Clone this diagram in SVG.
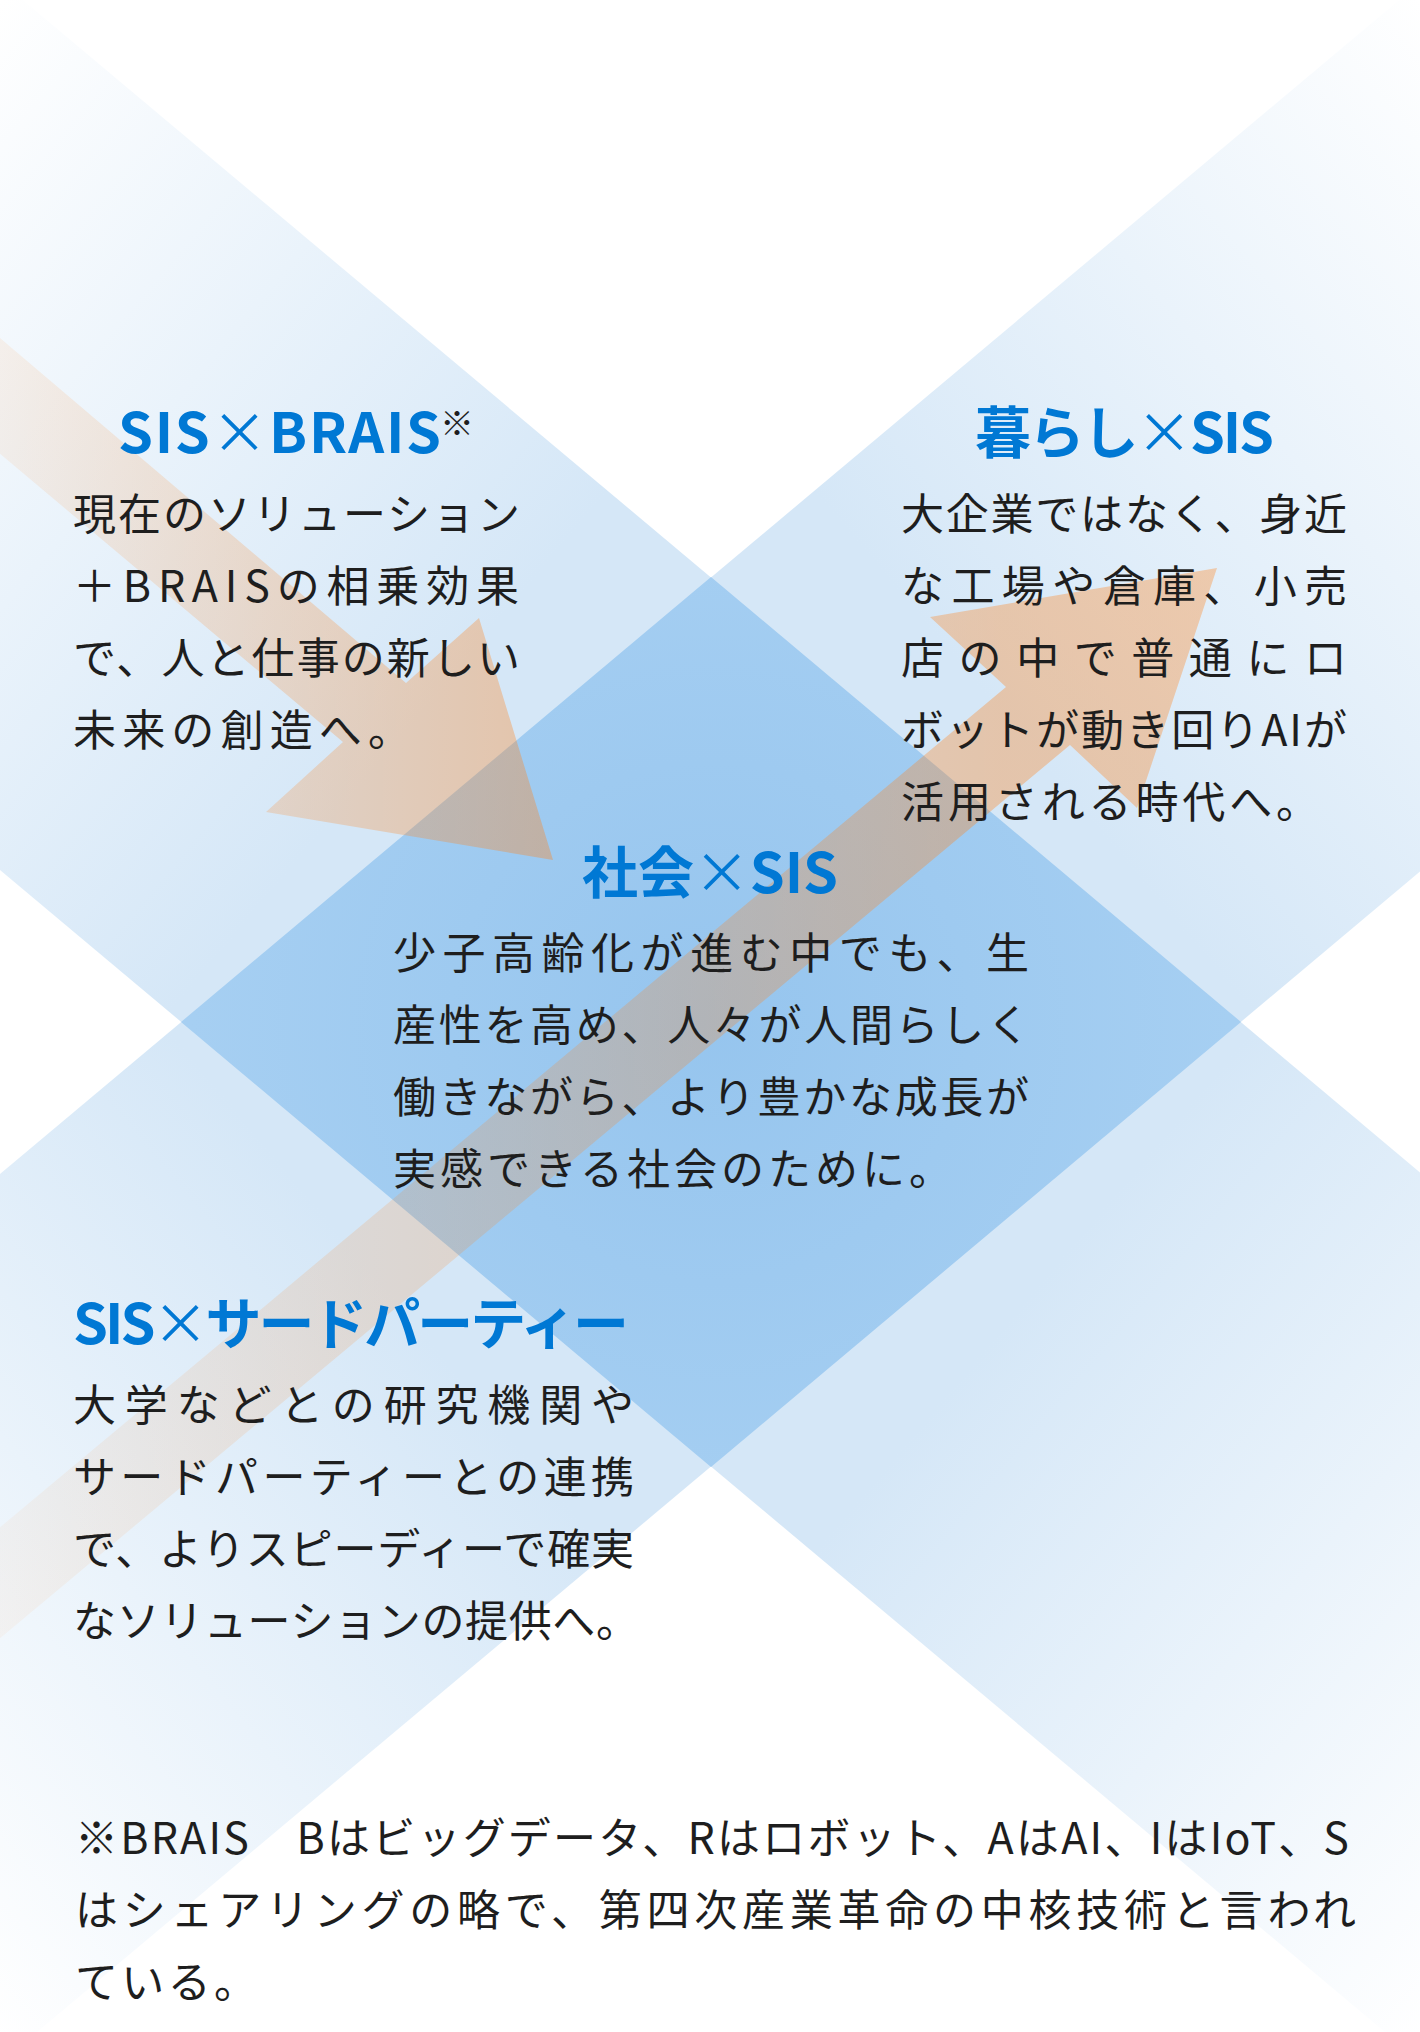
<svg xmlns="http://www.w3.org/2000/svg" width="1420" height="2032" viewBox="0 0 1420 2032">
  <defs>
    <style>
      .t { font-family: "Noto Sans CJK JP", "Noto Sans", sans-serif; }
      .h { font-size: 56px; font-weight: 700; fill: #0078d4; }
      .x { font-weight: 400; }
      .b { font-size: 43px; font-weight: 400; fill: #1e1e1e; }
      .note { font-size: 34px; font-weight: 400; fill: #1e1e1e; }
    </style>
    <linearGradient id="bandGrad" gradientUnits="userSpaceOnUse" x1="-1250" y1="0" x2="1250" y2="0">
      <stop offset="0.02" stop-color="#d5e7f7" stop-opacity="0"/>
      <stop offset="0.332" stop-color="#d5e7f7" stop-opacity="1"/>
      <stop offset="0.668" stop-color="#d5e7f7" stop-opacity="1"/>
      <stop offset="0.98" stop-color="#d5e7f7" stop-opacity="0"/>
    </linearGradient>
    <radialGradient id="diamondGrad" gradientUnits="userSpaceOnUse" cx="711" cy="1022" r="520">
      <stop offset="0" stop-color="#96c5ee"/>
      <stop offset="1" stop-color="#a6cff2"/>
    </radialGradient>
    <linearGradient id="arrow1Grad" gradientUnits="userSpaceOnUse" x1="0" y1="0" x2="553" y2="0">
      <stop offset="0" stop-color="#ff841f" stop-opacity="0.08"/>
      <stop offset="1" stop-color="#ff841f" stop-opacity="0.36"/>
    </linearGradient>
    <linearGradient id="arrow2Grad" gradientUnits="userSpaceOnUse" x1="0" y1="0" x2="1000" y2="0">
      <stop offset="0" stop-color="#ff841f" stop-opacity="0.05"/>
      <stop offset="1" stop-color="#ff841f" stop-opacity="0.35"/>
    </linearGradient>
  </defs>

  <rect x="0" y="0" width="1420" height="2032" fill="#ffffff"/>

  <g id="background">
    <rect transform="translate(711 1022) rotate(40)" x="-1400" y="-340.5" width="2800" height="681" fill="url(#bandGrad)"/>
    <rect transform="translate(711 1022) rotate(-40)" x="-1400" y="-340.5" width="2800" height="681" fill="url(#bandGrad)"/>
    <polygon id="center-diamond" points="711,577 1241,1022 711,1467 181,1022" fill="url(#diamondGrad)"/>
  </g>

  <g id="connectors">
    <polygon id="arrow-brais-to-society" points="-20,321 406,683 479,618 553,860 266,812 343,742 -20,437" fill="url(#arrow1Grad)"/>
    <polygon id="arrow-third-to-life" points="-20,1544 1006,687 930,617 1217,568 1137,808 1070,745 -20,1655" fill="url(#arrow2Grad)"/>
  </g>

  <g id="node-brais" class="t">
    <text class="h" x="118" y="453" textLength="323" lengthAdjust="spacing">SIS<tspan class="x">×</tspan>BRAIS</text>
    <text class="note" x="440" y="436">※</text>
    <text class="b" x="73" y="530" textLength="447" lengthAdjust="spacing">現在のソリューション</text>
    <text class="b" x="73" y="602" textLength="446" lengthAdjust="spacing">＋BRAISの相乗効果</text>
    <text class="b" x="73" y="674" textLength="447" lengthAdjust="spacing">で、人と仕事の新しい</text>
    <text class="b" x="73" y="746" textLength="338" lengthAdjust="spacing">未来の創造へ。</text>
  </g>

  <g id="node-kurashi" class="t">
    <text class="h" x="975" y="453" textLength="299" lengthAdjust="spacing">暮らし<tspan class="x">×</tspan>SIS</text>
    <text class="b" x="901" y="530" textLength="446" lengthAdjust="spacing">大企業ではなく、身近</text>
    <text class="b" x="901" y="602" textLength="446" lengthAdjust="spacing">な工場や倉庫、小売</text>
    <text class="b" x="901" y="674" textLength="446" lengthAdjust="spacing">店の中で普通にロ</text>
    <text class="b" x="901" y="746" textLength="446" lengthAdjust="spacing">ボットが動き回りAIが</text>
    <text class="b" x="901" y="818" textLength="418" lengthAdjust="spacing">活用される時代へ。</text>
  </g>

  <g id="node-shakai" class="t">
    <text class="h" x="582" y="893" textLength="256" lengthAdjust="spacing">社会<tspan class="x">×</tspan>SIS</text>
    <text class="b" x="393" y="969" textLength="636" lengthAdjust="spacing">少子高齢化が進む中でも、生</text>
    <text class="b" x="393" y="1041" textLength="637" lengthAdjust="spacing">産性を高め、人々が人間らしく</text>
    <text class="b" x="393" y="1113" textLength="636" lengthAdjust="spacing">働きながら、より豊かな成長が</text>
    <text class="b" x="393" y="1185" textLength="559" lengthAdjust="spacing">実感できる社会のために。</text>
  </g>

  <g id="node-third-party" class="t">
    <text class="h" x="73" y="1344" textLength="556" lengthAdjust="spacing">SIS<tspan class="x">×</tspan>サードパーティー</text>
    <text class="b" x="73" y="1421" textLength="561" lengthAdjust="spacing">大学などとの研究機関や</text>
    <text class="b" x="73" y="1493" textLength="561" lengthAdjust="spacing">サードパーティーとの連携</text>
    <text class="b" x="73" y="1565" textLength="561" lengthAdjust="spacing">で、よりスピーディーで確実</text>
    <text class="b" x="73" y="1637" textLength="566" lengthAdjust="spacing">なソリューションの提供へ。</text>
  </g>

  <g id="footnote" class="t">
    <text class="b" x="75" y="1854" textLength="1274" lengthAdjust="spacing">※BRAIS　Bはビッグデータ、Rはロボット、AはAI、IはIoT、S</text>
    <text class="b" x="75" y="1926" textLength="1281" lengthAdjust="spacing">はシェアリングの略で、第四次産業革命の中核技術と言われ</text>
    <text class="b" x="75" y="1998" textLength="182" lengthAdjust="spacing">ている。</text>
  </g>
</svg>
